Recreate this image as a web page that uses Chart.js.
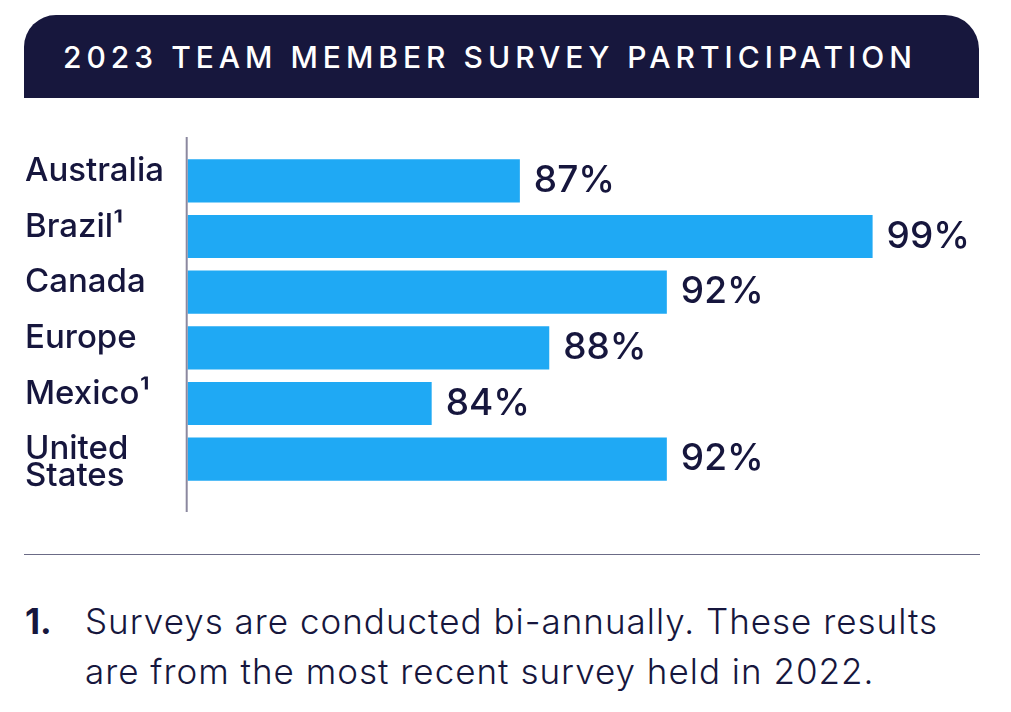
<!DOCTYPE html>
<html>
<head>
<meta charset="utf-8">
<script src="https://cdn.jsdelivr.net/npm/chart.js@4.4.0/dist/chart.umd.min.js"></script>
<style>
  body { margin: 0; background: #fff; width: 1011px; height: 712px; position: relative; overflow: hidden; font-family: Inter, "Noto Sans", sans-serif; color: #16163d; }
  .header { position: absolute; left: 24px; top: 15px; width: 955px; height: 83px; background: #17173d; border-radius: 32px 34px 0 0; }
  .header span { position: absolute; left: 39px; top: 24px; color: #fff; font-size: 30px; font-weight: 500; letter-spacing: 5px; line-height: 36px; white-space: nowrap; }
  #chart { position: absolute; left: 0; top: 100px; }
  .rule { position: absolute; left: 24px; top: 554px; width: 956px; height: 0; border-top: 1.5px solid #6b6b86; }
  .note { position: absolute; left: 25px; top: 596px; font-size: 35px; line-height: 50px; font-weight: 300; letter-spacing: 1px; color: #16163d; }
  .note b { position: absolute; left: 0; top: 0; font-weight: 700; letter-spacing: 0; }
  .note div { margin-left: 60px; white-space: nowrap; }
</style>
</head>
<body>
<div class="header"><span>2023 TEAM MEMBER SURVEY PARTICIPATION</span></div>
<canvas id="chart" width="1011" height="440"></canvas>
<div class="rule"></div>
<div class="note"><b>1.</b><div>Surveys are conducted bi-annually. These results<br>are from the most recent survey held in 2022.</div></div>
<script>
// Survey participation by region
const regions = [["Australia", ""], ["Brazil\u00B9", ""], ["Canada", ""], ["Europe", ""], ["Mexico\u00B9", ""], ["United", "States"]];
const participation = [87, 99, 92, 88, 84, 92];
const axisMin = 75.7;
const axisMax = 100;

const navy = "#16163d";
const barBlue = "#1fa9f4";

// value labels at bar ends + the vertical axis line
const valueLabels = {
    id: "valueLabels",
    afterDatasetsDraw(chart) {
        const ctx = chart.ctx;
        const meta = chart.getDatasetMeta(0);
        ctx.save();
        ctx.font = "500 37px Inter, 'Noto Sans', sans-serif";
        ctx.fillStyle = navy;
        ctx.textAlign = "left";
        ctx.textBaseline = "middle";
        meta.data.forEach((bar, i) => {
            ctx.fillText(participation[i] + "%", bar.x + 14, bar.y);
        });
        ctx.restore();
    },
    afterDraw(chart) {
        const ctx = chart.ctx;
        const area = chart.chartArea;
        ctx.save();
        ctx.strokeStyle = "#8b889f";
        ctx.lineWidth = 2;
        ctx.beginPath();
        ctx.moveTo(area.left - 1, area.top - 16);
        ctx.lineTo(area.left - 1, area.bottom + 25);
        ctx.stroke();
        ctx.restore();
    }
};

new Chart(document.getElementById("chart"), {
    type: "bar",
    data: {
        labels: regions,
        datasets: [{
            data: participation,
            backgroundColor: barBlue,
            borderWidth: 0,
            barPercentage: 0.775,
            categoryPercentage: 1
        }]
    },
    options: {
        indexAxis: "y",
        responsive: false,
        animation: false,
        layout: { padding: { left: 25, right: 109, top: 53, bottom: 53 } },
        plugins: { legend: { display: false }, tooltip: { enabled: false } },
        scales: {
            x: { display: false, min: axisMin, max: axisMax },
            y: {
                grid: { display: false },
                border: { display: false },
                afterFit: (scale) => { scale.width = 162.7; },
                ticks: {
                    autoSkip: false,
                    crossAlign: "far",
                    color: navy,
                    labelOffset: 3.5,
                    font: { family: "Inter, 'Noto Sans', sans-serif", size: 33, weight: 500, lineHeight: 0.81 }
                }
            }
        }
    },
    plugins: [valueLabels]
});
</script>
</body>
</html>
